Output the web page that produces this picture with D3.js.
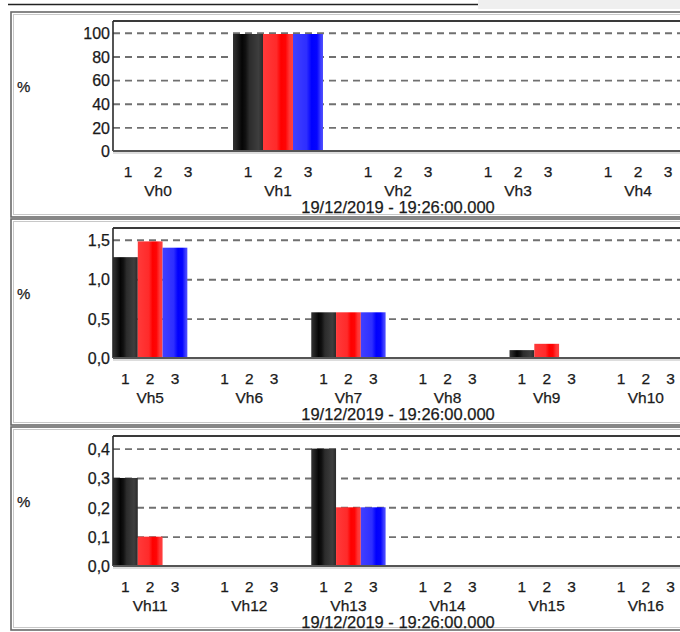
<!DOCTYPE html>
<html><head><meta charset="utf-8">
<script src="https://cdn.jsdelivr.net/npm/d3@7"></script>
<style>
html,body{margin:0;padding:0;background:#fff;overflow:hidden}
text{font-family:"Liberation Sans",Arial,sans-serif;fill:#1a1a1a;stroke:#1a1a1a;stroke-width:0.25px}
</style></head><body>
<svg id="c" width="680" height="632"></svg>
<script>
// ---- data ----
const harmonics = ["Vh0","Vh1","Vh2","Vh3","Vh4","Vh5","Vh6","Vh7","Vh8","Vh9","Vh10","Vh11","Vh12","Vh13","Vh14","Vh15","Vh16"];
const phases = ["1","2","3"];
const phase1 = [0, 99, 0, 0, 0, 1.28, 0, 0.58, 0, 0.10, 0, 0.30, 0, 0.40, 0, 0, 0];
const phase2 = [0, 99, 0, 0, 0, 1.48, 0, 0.58, 0, 0.18, 0, 0.10, 0, 0.20, 0, 0, 0];
const phase3 = [0, 99, 0, 0, 0, 1.40, 0, 0.58, 0, 0.00, 0, 0.00, 0, 0.20, 0, 0, 0];
const panelGroups = [["Vh0","Vh1","Vh2","Vh3","Vh4"],["Vh5","Vh6","Vh7","Vh8","Vh9","Vh10"],["Vh11","Vh12","Vh13","Vh14","Vh15","Vh16"]];
const panelMax = [110, 1.65, 0.443];
const panelTicks = [[0,20,40,60,80,100],[0,0.5,1.0,1.5],[0,0.1,0.2,0.3,0.4]];
const panelDecimals = [0, 1, 1];
const timestamp = "19/12/2019 - 19:26:00.000";
const unitLabel = "%";

// ---- layout ----
const svg = d3.select("#c");
const W = 680;
const plotL = 113, plotR = 683;
const panelTop = [12, 219, 427];
const panelBottom = [217, 425, 630];

const defs = svg.append("defs");
const grads = {
  "1": [[0,"#333"],[0.12,"#222"],[0.3,"#050505"],[0.42,"#111"],[0.55,"#2c2c2c"],[0.85,"#3e3e3e"],[1,"#2a2a2a"]],
  "2": [[0,"#ff3a3a"],[0.45,"#ff2a2a"],[0.6,"#ff0000"],[0.75,"#ff0505"],[0.88,"#ff3535"],[1,"#ff4040"]],
  "3": [[0,"#4040ff"],[0.45,"#2e2eff"],[0.62,"#0000ff"],[0.8,"#0505ff"],[0.92,"#3a3aff"],[1,"#5050ff"]]
};
Object.entries(grads).forEach(([k,stops])=>{
  const g = defs.append("linearGradient").attr("id","g"+k).attr("x1","0").attr("x2","1").attr("y1","0").attr("y2","0");
  stops.forEach(s=>g.append("stop").attr("offset",s[0]).attr("stop-color",s[1]));
});

// top cropped strip
svg.append("rect").attr("x",478).attr("y",0).attr("width",W-478).attr("height",9).attr("fill","#efefef");
svg.append("line").attr("x1",8).attr("x2",478).attr("y1",4.5).attr("y2",4.5).attr("stroke","#222").attr("stroke-width",1.5);

panelGroups.forEach((cats, p) => {
  const top = panelTop[p];
  const g = svg.append("g");
  // panel border
  g.append("rect").attr("x",11).attr("y",top).attr("width",W+20).attr("height",panelBottom[p]-top)
    .attr("fill","none").attr("stroke","#6a6a6a").attr("stroke-width",1.6);
  g.append("rect").attr("x",13.5).attr("y",top+2.5).attr("width",W+20).attr("height",panelBottom[p]-top-5)
    .attr("fill","none").attr("stroke","#c8c8c8").attr("stroke-width",1);

  const y0 = top + 139, y1 = top + 9;
  const y = d3.scaleLinear().domain([0, panelMax[p]]).range([y0, y1]);
  const x = d3.scaleBand().domain(cats).range([plotL, plotR]).paddingInner(0.25).paddingOuter(0);
  const xs = d3.scaleBand().domain(phases).range([0, x.bandwidth()]);

  // gridlines
  const grid = d3.axisLeft(y).tickValues(panelTicks[p].filter(t=>t>0)).tickSize(-(plotR-plotL+10)).tickFormat("");
  const gg = g.append("g").attr("transform",`translate(${plotL},0)`).call(grid);
  gg.select(".domain").remove();
  gg.selectAll("line").attr("stroke","#707070").attr("stroke-width",1.9).attr("stroke-dasharray","7,5");

  // bars
  const vals = {"1":phase1,"2":phase2,"3":phase3};
  cats.forEach(c => {
    const i = harmonics.indexOf(c);
    phases.forEach(ph => {
      const v = vals[ph][i];
      if (v <= 0) return;
      g.append("rect")
        .attr("x", x(c) + xs(ph))
        .attr("width", xs.bandwidth())
        .attr("y", y(v))
        .attr("height", y0 - y(v))
        .attr("fill", `url(#g${ph})`);
    });
  });

  // y axis labels
  const dec = panelDecimals[p];
  const ya = d3.axisLeft(y).tickValues(panelTicks[p]).tickSize(0).tickPadding(3)
    .tickFormat(d => d3.format("."+dec+"f")(d).replace(".", ","));
  const yg = g.append("g").attr("transform",`translate(${plotL},0)`).call(ya);
  yg.select(".domain").remove();
  yg.selectAll("text").attr("font-size",16).attr("font-family",null).attr("fill","#1a1a1a").attr("dy","0.36em");

  // frame: top, left, bottom
  g.append("line").attr("x1",plotL).attr("x2",W+10).attr("y1",y1).attr("y2",y1).attr("stroke","#3a3a3a").attr("stroke-width",2);
  g.append("line").attr("x1",plotL).attr("x2",plotL).attr("y1",y1).attr("y2",y0).attr("stroke","#2a2a2a").attr("stroke-width",1.6);
  g.append("line").attr("x1",plotL).attr("x2",W+10).attr("y1",y0).attr("y2",y0).attr("stroke","#555").attr("stroke-width",2);
  g.append("line").attr("x1",plotL).attr("x2",W+10).attr("y1",y0+2).attr("y2",y0+2).attr("stroke","#bbb").attr("stroke-width",1);

  // x labels
  cats.forEach(c => {
    phases.forEach(ph => {
      g.append("text").attr("x", x(c)+xs(ph)+xs.bandwidth()/2).attr("y", top+165)
        .attr("text-anchor","middle").attr("font-size",15.5).text(ph);
    });
    g.append("text").attr("x", x(c)+x.bandwidth()/2).attr("y", top+184)
      .attr("text-anchor","middle").attr("font-size",15.5).text(c);
  });
  g.append("text").attr("x",(plotL+plotR)/2).attr("y",top+201).attr("text-anchor","middle")
    .attr("font-size",16.5).text(timestamp);
  g.append("text").attr("x",17).attr("y",top+80).attr("font-size",15).text(unitLabel);
});
</script>
</body></html>
